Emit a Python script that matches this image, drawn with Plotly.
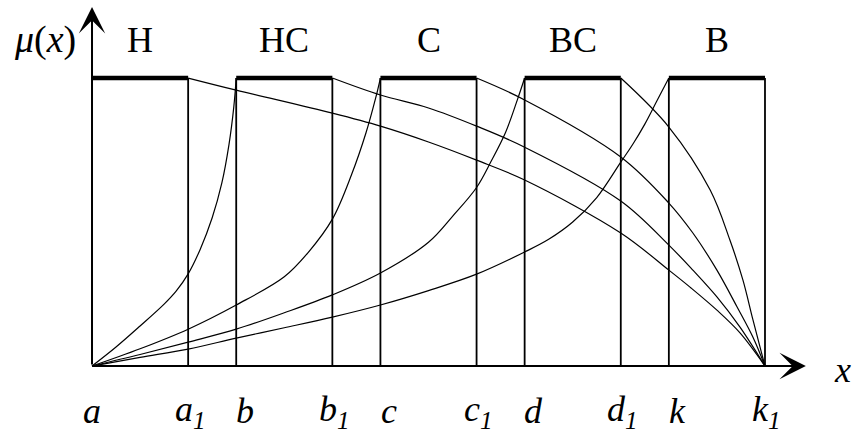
import plotly.graph_objects as go

# breakpoints on the x axis (in units), and their labels
tick_pos = [0, 2, 3, 5, 6, 8, 9, 11, 12, 14]
tick_text = ['a', 'a', 'b', 'b', 'c', 'c', 'd', 'd', 'k', 'k']
tick_sub = ['', '1', '', '1', '', '1', '', '1', '', '1']

# term names and their core intervals (membership = 1)
set_names = ['H', 'HC', 'C', 'BC', 'B']
core_lo = [0, 3, 6, 9, 12]
core_hi = [2, 5, 8, 11, 14]

# rising branches (from a up to the start of each core)
hc_rise_x = [0, 0.5, 1, 1.5, 1.75, 2, 2.25, 2.5, 2.7, 2.85, 2.95, 3]
hc_rise_y = [0, 0.066, 0.139, 0.215, 0.26, 0.32, 0.405, 0.515, 0.635, 0.77, 0.9, 1]
c_rise_x = [0, 1, 2, 3, 4, 4.5, 5, 5.4, 5.7, 5.9, 6]
c_rise_y = [0, 0.06, 0.128, 0.212, 0.31, 0.395, 0.51, 0.665, 0.81, 0.93, 1]
bc_rise_x = [0, 1, 2, 3, 4, 5, 6, 7, 7.5, 8, 8.3, 8.6, 8.85, 9]
bc_rise_y = [0, 0.04, 0.083, 0.128, 0.185, 0.247, 0.323, 0.43, 0.52, 0.62, 0.71, 0.81, 0.925, 1]
b_rise_x = [0, 1, 2, 3, 4, 5, 6, 7, 8, 9, 9.5, 10, 10.5, 11, 11.25, 11.5, 11.75, 12]
b_rise_y = [0, 0.03, 0.059, 0.097, 0.133, 0.17, 0.212, 0.262, 0.319, 0.396, 0.44, 0.5,
            0.585, 0.708, 0.77, 0.84, 0.92, 1]

# falling branches (from the end of each core down to k1)
h_fall_x = [2, 3, 5, 6, 7, 8, 9, 11, 12, 12.44, 13, 13.48, 14]
h_fall_y = [1, 0.958, 0.878, 0.833, 0.778, 0.715, 0.646, 0.462, 0.333, 0.274, 0.194, 0.115, 0]
hc_fall_x = [5, 6, 7, 8, 9, 11, 12, 12.5, 13, 13.48, 14]
hc_fall_y = [1, 0.941, 0.896, 0.833, 0.76, 0.573, 0.42, 0.333, 0.24, 0.135, 0]
c_fall_x = [8, 9, 11, 12, 12.5, 13, 13.42, 13.75, 14]
c_fall_y = [1, 0.924, 0.726, 0.566, 0.462, 0.333, 0.205, 0.1, 0]
bc_fall_x = [11, 12, 12.86, 13.27, 13.54, 13.75, 14]
bc_fall_y = [1, 0.83, 0.611, 0.4375, 0.299, 0.16, 0]

SERIF = "Liberation Serif"
fig = go.Figure()

# vertical lines at every breakpoint (except a, which is the y axis)
vx, vy = [], []
for p in tick_pos[1:]:
    vx += [p, p, None]
    vy += [0, 1, None]
fig.add_trace(go.Scatter(x=vx, y=vy, mode='lines',
                         line=dict(color='black', width=1.8), hoverinfo='skip'))

# curved branches
curves = [(hc_rise_x, hc_rise_y), (c_rise_x, c_rise_y), (bc_rise_x, bc_rise_y),
          (b_rise_x, b_rise_y), (h_fall_x, h_fall_y), (hc_fall_x, hc_fall_y),
          (c_fall_x, c_fall_y), (bc_fall_x, bc_fall_y)]
for cx, cy in curves:
    fig.add_trace(go.Scatter(x=cx, y=cy, mode='lines', line_shape='spline',
                             line=dict(color='black', width=1.2, smoothing=1),
                             hoverinfo='skip'))

# thick core segments at membership 1
kx, ky = [], []
for lo, hi in zip(core_lo, core_hi):
    kx += [lo, hi, None]
    ky += [1, 1, None]
fig.add_trace(go.Scatter(x=kx, y=ky, mode='lines',
                         line=dict(color='black', width=4.5), hoverinfo='skip'))

# axes with arrow heads
fig.add_annotation(x=14.85, y=0, ax=-0.02, ay=0, axref='x', ayref='y',
                   xref='x', yref='y', text='', showarrow=True,
                   arrowhead=3, arrowsize=2.2, arrowwidth=2, arrowcolor='black')
fig.add_annotation(x=0, y=1.2465, ax=0, ay=0, axref='x', ayref='y',
                   xref='x', yref='y', text='', showarrow=True,
                   arrowhead=3, arrowsize=2.2, arrowwidth=2, arrowcolor='black')

# term names above the cores
for name, lo, hi in zip(set_names, core_lo, core_hi):
    fig.add_annotation(x=(lo + hi) / 2, y=1.132, text=name, showarrow=False,
                       font=dict(family=SERIF, size=36, color='black'))

# breakpoint labels under the axis
for p, t, s in zip(tick_pos, tick_text, tick_sub):
    label = '<i>%s</i>' % t
    shift = 9 if p > 0 else 0
    if s:
        label += '<sub><i>%s</i></sub>' % s
        shift = 2
    fig.add_annotation(x=p, y=-0.157, text=label, showarrow=False,
                       xanchor='center', xshift=shift,
                       font=dict(family=SERIF, size=36, color='black'))

fig.add_annotation(x=-0.98, y=1.135, text='<i>μ</i>(<i>x</i>)', showarrow=False,
                   font=dict(family=SERIF, size=38, color='black'))
fig.add_annotation(x=15.62, y=-0.014, text='<i>x</i>', showarrow=False,
                   font=dict(family=SERIF, size=36, color='black'))

fig.update_layout(width=852, height=432, margin=dict(l=0, r=0, t=0, b=0),
                  plot_bgcolor='white', paper_bgcolor='white', showlegend=False)
fig.update_xaxes(range=[-1.914, 15.81], visible=False)
fig.update_yaxes(range=[-0.229, 1.271], visible=False)

# drop the default page margin so the figure sits at the window corner
fig.write_html("out.html", config={'displayModeBar': False},
               post_script="document.body.style.margin='0';")
